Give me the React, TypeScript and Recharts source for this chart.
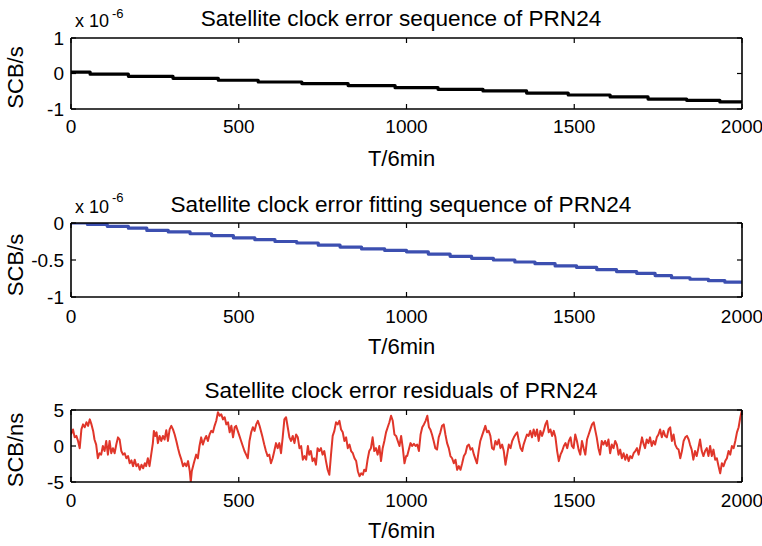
import React from 'react';
import { LineChart, Line, XAxis, YAxis, Label } from 'recharts';

const W = 762;
const H = 546;
const FONT = '"Liberation Sans", Arial, Helvetica, sans-serif';

const xTicks = [0, 500, 1000, 1500, 2000];

const titles = [
  'Satellite clock error sequence of PRN24',
  'Satellite clock error fitting sequence of PRN24',
  'Satellite clock error residuals of PRN24',
];
const xLabel = 'T/6min';
const yLabels = ['SCB/s', 'SCB/s', 'SCB/ns'];

// Panel 1: clock error (x 10^-6 s)
const clockT = [0, 57, 171, 304, 439, 558, 688, 826, 966, 1094, 1228, 1358, 1482, 1607, 1720, 1835, 1934, 2000];
const clockV = [0.04, -0.02, -0.08, -0.135, -0.19, -0.24, -0.285, -0.34, -0.4, -0.445, -0.49, -0.55, -0.605, -0.66, -0.72, -0.755, -0.8, -0.8];

// Panel 2: fitted clock error (x 10^-6 s)
const fitT = [0, 49, 108, 171, 226, 290, 355, 419, 484, 548, 608, 673, 737, 802, 866, 935, 1000, 1065, 1130, 1194, 1259, 1323, 1383, 1443, 1507, 1567, 1626, 1686, 1741, 1790, 1845, 1900, 1949, 2000];
const fitV = [0, -0.02, -0.045, -0.07, -0.1, -0.12, -0.145, -0.17, -0.2, -0.225, -0.25, -0.27, -0.3, -0.325, -0.35, -0.37, -0.39, -0.42, -0.45, -0.477, -0.5, -0.527, -0.55, -0.58, -0.6, -0.63, -0.657, -0.68, -0.71, -0.74, -0.76, -0.78, -0.8, -0.8];

// Panel 3: residuals (ns)
const resT1 = [0, 6, 11, 16, 21, 26, 31, 36, 41, 46, 51, 56, 61, 66, 70, 75, 80, 85, 90, 95, 100, 105, 110, 115, 120, 125, 130, 135, 140, 145, 150, 155, 160, 165, 170, 175, 180, 185, 190, 195, 200, 205, 210, 215, 220, 224, 229, 234, 239, 244, 247, 251, 255, 259, 264, 269, 274, 279, 284, 289, 294, 299, 304, 309, 314, 319, 324, 329, 334, 339, 344, 349, 354, 357, 360, 366, 373, 378, 383, 388, 393, 398, 403, 408, 413, 418, 423, 428, 433, 438, 443, 448, 453, 458, 463, 468, 473, 478, 483, 488];
const resV1 = [1.6, 2.3, 1.2, 1.4, 0.7, -0.3, 2.3, 3.0, 2.6, 3.3, 2.8, 3.7, 3.0, 2.1, 0.9, 0.2, -1.7, -1.0, -1.2, 0.0, -0.7, 0.7, -1.2, 0.7, -1.0, -0.3, -1.0, 0.2, 1.2, 0.9, -0.7, -1.2, -1.0, -1.7, -1.4, -2.4, -2.0, -2.8, -1.9, -2.8, -2.5, -3.3, -2.6, -3.1, -2.4, -2.8, -1.7, -2.8, -1.2, 0.4, 2.1, 1.4, 1.9, 0.4, 1.4, 0.7, 1.4, 0.9, 2.2, 0.7, 2.3, 2.8, 2.3, 1.6, 0.7, -0.3, -1.2, -1.9, -2.8, -2.4, -2.8, -2.1, -3.5, -5.0, -3.5, -2.4, -1.2, -1.7, 0.0, 1.2, 0.2, 0.9, 1.4, 0.7, 1.6, 2.1, 1.9, 2.8, 3.5, 4.7, 4.2, 4.4, 3.7, 4.0, 3.0, 3.3, 1.9, 2.8, 1.2, 2.6];
const resT2 = [492, 497, 502, 507, 512, 517, 522, 527, 532, 537, 542, 547, 552, 557, 562, 566, 571, 576, 581, 586, 591, 596, 601, 606, 611, 616, 621, 626, 631, 636, 641, 646, 651, 656, 661, 666, 671, 676, 681, 686, 691, 696, 701, 706, 710, 715, 720, 725, 730, 735, 740, 745, 750, 755, 760, 765, 770, 775, 780, 785, 790, 795, 800, 805, 810, 815, 820, 825, 830, 835, 840, 845, 850, 855, 860, 865, 870, 874, 879, 884, 889, 894, 899, 904, 909, 914, 919, 924, 929, 934, 939, 944, 949, 954, 959, 964, 969, 974, 979, 984, 989, 994, 999];
const resV2 = [2.8, 2.1, 1.4, 0.7, 0.0, -0.7, -1.2, -1.7, 0.7, 1.9, 2.6, 2.1, 3.0, 3.5, 2.8, 2.1, 1.2, 0.2, -0.7, -1.4, -1.2, -2.4, -1.7, -0.7, 0.4, -0.3, 0.4, -1.0, 1.2, 3.7, 4.0, 2.6, 1.2, 0.7, 1.4, 0.4, 1.6, 1.2, -0.3, 0.0, -1.9, -1.4, -1.9, 0.0, -1.2, -0.7, -2.1, -1.7, -2.6, -0.3, -0.7, -0.3, -1.2, -0.7, -2.1, -3.3, -4.0, -1.2, 1.4, 2.1, 3.3, 3.0, 3.5, 2.3, 1.9, 0.7, 1.2, -0.3, 0.2, -0.7, -1.0, -1.7, -2.1, -3.5, -4.2, -3.8, -4.0, -3.3, -3.5, -1.9, -0.7, -0.3, 1.2, -0.7, -0.3, -1.2, 0.0, -2.1, -0.3, 0.7, 1.9, 2.6, 3.3, 4.2, 3.5, 1.6, 1.4, 0.7, 0.0, 1.4, -0.3, -2.4, -1.4];
const resT3 = [1002, 1007, 1012, 1017, 1022, 1027, 1032, 1037, 1042, 1047, 1052, 1057, 1062, 1067, 1071, 1076, 1081, 1086, 1091, 1096, 1101, 1106, 1111, 1116, 1121, 1126, 1131, 1136, 1141, 1146, 1151, 1156, 1161, 1166, 1171, 1176, 1181, 1186, 1191, 1196, 1201, 1206, 1210, 1215, 1220, 1225, 1230, 1235, 1240, 1245, 1250, 1255, 1260, 1265, 1270, 1275, 1280, 1285, 1290, 1295, 1300, 1305, 1310, 1315, 1320, 1325, 1330, 1335, 1340, 1345, 1349, 1354, 1359, 1364, 1369, 1374, 1379, 1384, 1389, 1394, 1399, 1404, 1409, 1414, 1419, 1424, 1429, 1434, 1439, 1444, 1449, 1454, 1459, 1464, 1469, 1474, 1479, 1484, 1489];
const resV3 = [-1.4, -0.5, 0.4, 0.0, 0.3, 0.0, 0.2, -0.7, 1.6, 2.6, 3.0, 3.5, 4.2, 2.6, 2.3, 1.6, 0.7, -0.3, -0.5, 1.2, 1.9, 2.8, 3.0, 1.6, 0.4, -0.3, -1.4, -1.7, -2.4, -1.9, -3.3, -2.8, -3.3, -2.4, -1.4, -1.0, 0.0, 0.2, -0.5, -0.3, -1.2, -1.9, -2.4, -0.7, 0.7, 1.4, 2.1, 2.8, 1.9, 2.1, 1.4, -0.3, -0.5, 0.7, 0.2, 0.9, -0.3, 0.2, -0.7, -2.6, -1.2, 0.2, -0.3, 0.7, 1.2, 1.6, 1.9, 0.7, -0.3, -0.7, 0.2, 0.9, 1.6, 1.4, 2.1, 1.2, 2.3, 1.4, 2.3, 0.7, 2.1, 1.4, 2.1, 3.0, 3.5, 1.9, 2.3, 1.4, 2.1, 1.2, -0.7, -2.1, -1.2, -0.7, 0.0, 0.4, -0.3, 0.7, 1.2];
const resT4 = [1493, 1498, 1503, 1508, 1513, 1518, 1523, 1528, 1533, 1538, 1543, 1548, 1553, 1558, 1563, 1567, 1572, 1577, 1582, 1587, 1592, 1597, 1602, 1607, 1612, 1617, 1622, 1627, 1632, 1637, 1642, 1647, 1652, 1657, 1662, 1667, 1672, 1677, 1682, 1687, 1692, 1697, 1702, 1706, 1711, 1716, 1721, 1726, 1731, 1736, 1741, 1746, 1751, 1756, 1761, 1766, 1771, 1776, 1781, 1786, 1791, 1796, 1801, 1806, 1811, 1816, 1821, 1826, 1831, 1836, 1841, 1845, 1850, 1855, 1860, 1865, 1870, 1875, 1880, 1885, 1890, 1895, 1900, 1905, 1910, 1915, 1920, 1925, 1930, 1935, 1940, 1945, 1950, 1955, 1960, 1965, 1970, 1975, 1980, 1985, 1990, 1995, 2000];
const resV4 = [0.0, -0.3, 1.6, 0.7, -0.5, -1.2, 0.7, -0.3, -1.2, 0.9, 1.6, 2.3, 3.0, 3.3, 2.1, 1.2, -0.3, -1.2, 0.7, 0.2, 0.7, 0.0, 0.9, -1.0, 0.2, -0.3, 0.7, 0.2, -1.2, -0.5, -1.7, -1.0, -1.9, -1.2, -2.1, -1.4, -1.7, -1.0, -0.7, -0.3, -1.2, 0.0, 1.2, 0.4, -0.3, 0.9, 0.4, 1.2, 0.0, 0.7, 0.2, 1.2, 1.6, 2.3, 1.2, 2.1, 1.4, 1.2, 2.3, 2.6, 0.7, 1.6, 0.2, -0.3, -0.5, -1.7, -0.7, 0.7, 1.2, 1.4, 0.9, 0.2, -0.5, -1.9, -0.7, -1.4, -0.3, 0.9, -0.7, -1.4, -0.7, -0.3, -1.4, 0.0, -1.4, -0.5, -1.9, -1.7, -2.8, -3.8, -2.4, -2.8, -2.1, -1.7, -0.7, -1.2, 0.0, -0.3, 0.7, 1.9, 2.6, 4.0, 5.0];

const zip = (ts: number[], vs: number[]) => {
  const n = Math.min(ts.length, vs.length);
  const out: { t: number; v: number }[] = [];
  for (let i = 0; i < n; i++) out.push({ t: ts[i], v: vs[i] });
  return out;
};

const clockData = zip(clockT, clockV);
const fitData = zip(fitT, fitV);
const resData = [
  ...zip(resT1, resV1),
  ...zip(resT2, resV2),
  ...zip(resT3, resV3),
  ...zip(resT4, resV4),
];

const PLOT_LEFT = 71;
const PLOT_RIGHT = 742;
const TICK_FONT = 19;
const LABEL_FONT = 22;
const TITLE_FONT = 22.6;

type PanelProps = {
  top: number;
  height: number;
  plotTop: number;
  plotBottom: number;
  data: { t: number; v: number }[];
  color: string;
  strokeWidth: number;
  lineType: any;
  yDomain: [number, number];
  yTicks: number[];
  yLabel: string;
  tickGap: number;
  xLabelBaseline: number;
  yLabelShift: number;
};

function Panel(p: PanelProps) {
  const xAxisH = p.top + p.height - p.plotBottom;
  const marginTop = p.plotTop - p.top - 1;
  const tickStyle = { fill: '#000', fontSize: TICK_FONT, fontFamily: FONT };
  const axisLine = { stroke: '#000', strokeWidth: 1.6 };
  const tickLine = { stroke: '#000', strokeWidth: 1.2 };
  const yLabelContent = (props: any) => {
    const vb = props.viewBox || { x: 0, y: 0, width: 0, height: 0 };
    const cx = 23;
    const cy = vb.y + vb.height / 2 + p.yLabelShift;
    return (
      <text
        x={cx}
        y={cy}
        transform={`rotate(-90 ${cx} ${cy})`}
        textAnchor="middle"
        fontSize={LABEL_FONT}
        fontFamily={FONT}
        fill="#000"
      >
        {p.yLabel}
      </text>
    );
  };
  return (
    <div style={{ position: 'absolute', left: 0, top: p.top, width: W, height: p.height }}>
      <LineChart
        width={W}
        height={p.height}
        data={p.data}
        margin={{ top: marginTop, right: W - PLOT_RIGHT - 1, bottom: 0, left: 0 }}
      >
        <XAxis
          xAxisId="b"
          dataKey="t"
          type="number"
          domain={[0, 2000]}
          ticks={xTicks}
          interval={0}
          allowDataOverflow
          height={xAxisH}
          tickSize={-5}
          tickMargin={5 + p.tickGap}
          tick={tickStyle}
          axisLine={axisLine}
          tickLine={tickLine}
        >
          <Label
            value={xLabel}
            position="insideBottom"
            offset={p.top + p.height - p.xLabelBaseline}
            dx={-5}
            style={{ fontSize: LABEL_FONT, fontFamily: FONT, fill: '#000' }}
          />
        </XAxis>
        <XAxis
          xAxisId="t"
          orientation="top"
          dataKey="t"
          type="number"
          domain={[0, 2000]}
          ticks={xTicks}
          interval={0}
          allowDataOverflow
          height={1}
          tickSize={-5}
          tickFormatter={() => ''}
          tick={tickStyle}
          axisLine={axisLine}
          tickLine={tickLine}
        />
        <YAxis
          yAxisId="l"
          type="number"
          domain={p.yDomain}
          ticks={p.yTicks}
          interval={0}
          allowDataOverflow
          width={PLOT_LEFT}
          tickSize={-5}
          tickMargin={12}
          tick={tickStyle}
          axisLine={axisLine}
          tickLine={tickLine}
        >
          <Label content={yLabelContent} position="insideLeft" />
        </YAxis>
        <YAxis
          yAxisId="r"
          orientation="right"
          type="number"
          domain={p.yDomain}
          ticks={p.yTicks}
          interval={0}
          allowDataOverflow
          width={1}
          tickSize={-5}
          tickFormatter={() => ''}
          tick={tickStyle}
          axisLine={axisLine}
          tickLine={tickLine}
        />
        <Line
          xAxisId="t"
          yAxisId="r"
          dataKey="v"
          type={p.lineType}
          stroke="none"
          strokeWidth={0}
          dot={false}
          activeDot={false}
          legendType="none"
          isAnimationActive={false}
        />
        <Line
          xAxisId="b"
          yAxisId="l"
          dataKey="v"
          type={p.lineType}
          stroke={p.color}
          strokeWidth={p.strokeWidth}
          dot={false}
          activeDot={false}
          isAnimationActive={false}
          strokeLinejoin="round"
        />
      </LineChart>
    </div>
  );
}

export default function App() {
  const titleStyle = { fontSize: TITLE_FONT, fontFamily: FONT, fill: '#000' };
  return (
    <div style={{ position: 'fixed', left: 0, top: 0, width: W, height: H, background: '#fff', overflow: 'hidden' }}>
      <Panel
        top={0}
        height={182}
        plotTop={38}
        plotBottom={109}
        data={clockData}
        color="#000000"
        strokeWidth={3.2}
        lineType="stepAfter"
        yDomain={[-1, 1]}
        yTicks={[-1, 0, 1]}
        yLabel={yLabels[0]}
        tickGap={11}
        xLabelBaseline={166}
        yLabelShift={4}
      />
      <Panel
        top={182}
        height={182}
        plotTop={223}
        plotBottom={297}
        data={fitData}
        color="#3c4fb0"
        strokeWidth={3.2}
        lineType="stepAfter"
        yDomain={[-1, 0]}
        yTicks={[-1, -0.5, 0]}
        yLabel={yLabels[1]}
        tickGap={13}
        xLabelBaseline={354}
        yLabelShift={5}
      />
      <Panel
        top={364}
        height={182}
        plotTop={410}
        plotBottom={482}
        data={resData}
        color="#e0362a"
        strokeWidth={2}
        lineType="linear"
        yDomain={[-5, 5]}
        yTicks={[-5, 0, 5]}
        yLabel={yLabels[2]}
        tickGap={12}
        xLabelBaseline={538}
        yLabelShift={4}
      />
      <svg width={W} height={H} style={{ position: 'absolute', left: 0, top: 0, pointerEvents: 'none' }}>
        <text x={401} y={26} textAnchor="middle" style={titleStyle}>{titles[0]}</text>
        <text x={401} y={212} textAnchor="middle" style={titleStyle}>{titles[1]}</text>
        <text x={401} y={398} textAnchor="middle" style={titleStyle}>{titles[2]}</text>
        <text x={75} y={27} fontSize={18} fontFamily={FONT} fill="#000">x 10</text>
        <text x={112} y={18} fontSize={13} fontFamily={FONT} fill="#000">-6</text>
        <text x={75} y={213} fontSize={18} fontFamily={FONT} fill="#000">x 10</text>
        <text x={112} y={202} fontSize={13} fontFamily={FONT} fill="#000">-6</text>
      </svg>
    </div>
  );
}
